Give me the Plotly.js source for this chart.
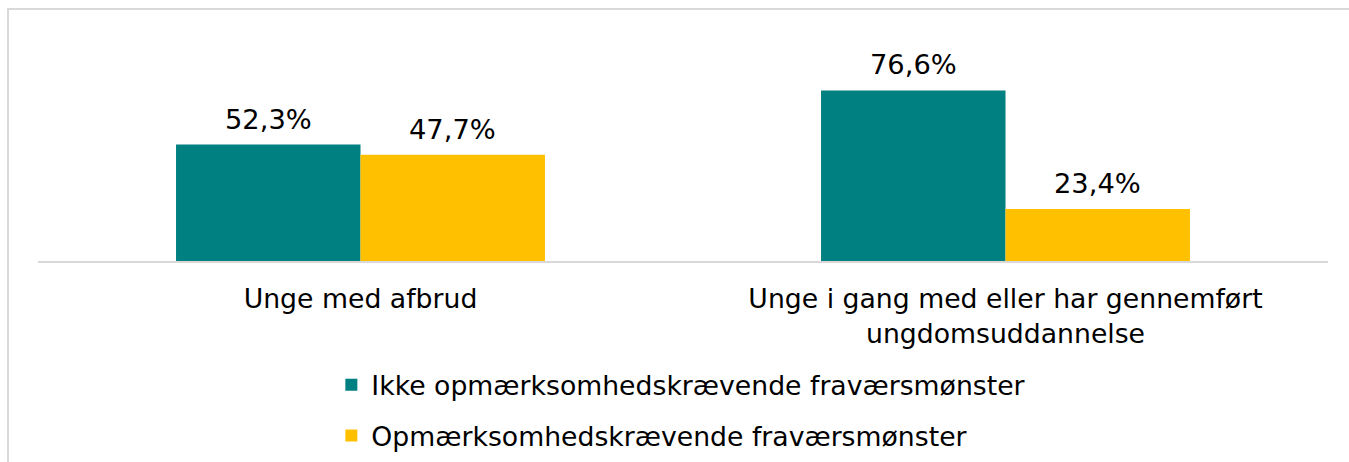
<!DOCTYPE html>
<html>
<head>
<meta charset="utf-8">
<script src="https://cdn.plot.ly/plotly-3.0.1.min.js"></script>
<style>
  html, body { margin: 0; padding: 0; background: #ffffff; overflow: hidden; }
  #wrap { position: relative; width: 1349px; height: 462px; overflow: hidden; }
  #chart { position: absolute; left: 0; top: 0; width: 1349px; height: 490px; }
  #frame { position: absolute; left: 7px; top: 8px; width: 1360px; height: 470px;
           border-left: 2px solid #d9d9d9; border-top: 2px solid #d9d9d9; pointer-events: none; }
</style>
</head>
<body>
<div id="wrap">
  <div id="chart"></div>
  <div id="frame"></div>
</div>
<script>
// Data
const categories = ["Unge med afbrud", "Unge i gang med eller har gennemført<br>ungdomsuddannelse"];
const seriesNames = ["Ikke opmærksomhedskrævende fraværsmønster", "Opmærksomhedskrævende fraværsmønster"];
const ikkeValues = [52.3, 76.6];
const opmValues = [47.7, 23.4];
const seriesColors = ["#008080", "#FFC000"];

const FONT = "Verdana, 'DejaVu Sans', sans-serif";

const traces = [
  {
    type: "bar", name: seriesNames[0], x: categories, y: ikkeValues,
    marker: { color: seriesColors[0] }, hoverinfo: "skip",
    legendgroup: "a"
  },
  {
    type: "bar", name: seriesNames[1], x: categories, y: opmValues,
    marker: { color: seriesColors[1] }, hoverinfo: "skip",
    legendgroup: "b"
  }
];

function fmt(v) { return v.toFixed(1).replace(".", ",") + "%"; }

const annotations = [];
[ikkeValues, opmValues].forEach((vals, si) => {
  vals.forEach((v, ci) => {
    annotations.push({
      x: categories[ci], y: v, xref: "x", yref: "y",
      text: fmt(v), showarrow: false,
      xanchor: "center", yanchor: "bottom",
      xshift: si === 0 ? -92.25 : 92.25,
      yshift: 8,
      font: { family: FONT, size: 27.3, color: "#000000" }
    });
  });
});

const layout = {
  width: 1349, height: 490,
  margin: { l: 38, r: 21, t: 20, b: 229 },
  paper_bgcolor: "rgba(0,0,0,0)",
  plot_bgcolor: "#ffffff",
  barmode: "group",
  bargap: 0.428,
  bargroupgap: 0,
  font: { family: FONT, size: 26.7, color: "#000000" },
  xaxis: {
    type: "category",
    showline: true, linecolor: "#d9d9d9", linewidth: 2,
    ticks: "", showgrid: false, zeroline: false,
    ticklabelstandoff: 13,
    automargin: false,
    tickfont: { family: FONT, size: 26.7, color: "#000000" }
  },
  yaxis: {
    range: [0, 108.2], visible: false, showgrid: false, zeroline: false
  },
  showlegend: true,
  legend: {
    orientation: "v",
    x: 0.2274, xanchor: "left",
    y: -0.415, yanchor: "top",
    font: { family: FONT, size: 26.7, color: "#000000" },
    tracegroupgap: 13,
    bgcolor: "rgba(0,0,0,0)"
  },
  annotations: annotations,
  hovermode: false
};

Plotly.newPlot("chart", traces, layout, { displayModeBar: false, staticPlot: true });
</script>
</body>
</html>
